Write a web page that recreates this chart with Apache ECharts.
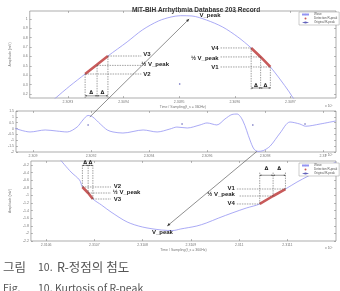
<!DOCTYPE html>
<html>
<head>
<meta charset="utf-8">
<script src="https://cdn.jsdelivr.net/npm/echarts@6/dist/echarts.min.js"></script>
<style>
html,body{margin:0;padding:0;background:#fff;}
#main{width:340px;height:291px;}
</style>
</head>
<body>
<div id="main"></div>
<script>
// ---- panel 1 : zoomed positive R-peak ----
var p1X = [13.5,15.6,20.7,26.2,30.3,34.4,41.3,46.8,52.6,57.1,60.5,64.6,69.8,75.6,81.1,85.9,89.3,92.8,96.2,99.6,101.0,103.0];
var p1Y = [0.10,0.157,0.285,0.413,0.509,0.605,0.755,0.883,0.979,1.021,1.035,1.032,0.989,0.915,0.808,0.691,0.595,0.488,0.36,0.221,0.157,0.10];
var p1DetL = [[26.2,0.413],[30.3,0.509],[34.4,0.605]];
var p1DetR = [[85.9,0.691],[89.3,0.595],[92.8,0.488]];
var p1Orig = [[60.2,0.307]];
var p1Ticks = [20,40,60,80,100];
var p1XLabels = ['2.3093','2.3094','2.3095','2.3096','2.3097'];
var p1YTicks = [0.2,0.3,0.4,0.5,0.6,0.7,0.8,0.9,1];

// ---- panel 2 : ECG segment ----
var p2X = [-33,-5,21,41,59,76,86,95,103,116,128,138,155,190,214,236,248,266,288,300,317,331,343,352,362,374,381,388,397,409,426,443,460,470,495,522];
var p2Y = [0.05,-0.29,-0.12,-0.21,-0.29,0.13,0.73,1.12,0.99,0.39,-0.12,-0.29,-0.38,-0.12,-0.29,-0.04,0.13,0.05,0.31,0.48,0.31,0.82,1.2,1.24,0.65,-0.97,-1.75,-1.95,-1.88,-1.49,-0.38,0.56,0.39,0.2,0.39,0.65];
var p2Orig = [[95,0.31],[257,0.39],[379,0.31],[469,0.39]];
var p2Ticks = [0,100,200,300,400,500];
var p2XLabels = ['2.309','2.3092','2.3094','2.3096','2.3098','2.31'];
var p2YTicks = [-2,-1.5,-1,-0.5,0,0.5,1,1.5];

// ---- panel 3 : zoomed negative R-peak ----
var p3X = [29.6,51.4,69.2,75.1,87,96.8,114.6,134.4,168,199.6,239.1,262.8,278.7,312.3,332,357.7,385.4,415,442.7,470.4,496,519.8,543.5,569.2,600.8];
var p3Y = [-0.068,-0.384,-0.595,-0.779,-0.937,-1.095,-1.253,-1.437,-1.7,-1.832,-1.911,-1.924,-1.884,-1.805,-1.726,-1.595,-1.463,-1.332,-1.226,-1.016,-0.832,-0.65,-0.49,-0.33,-0.121];
var p3DetL = [[75.1,-0.779],[87,-0.937],[96.8,-1.095]];
var p3DetR = [[442.7,-1.226],[470.4,-1.016],[496,-0.832]];
var p3Ticks = [0,100,200,300,400,500];
var p3XLabels = ['2.3106','2.3107','2.3108','2.3109','2.311','2.3111'];
var p3YTicks = [-2.2,-2,-1.8,-1.6,-1.4,-1.2,-1,-0.8,-0.6,-0.4,-0.2];

// annotations (data units): [grid, x1, y1, x2, y2]
var guideLines = [
  [0,26.2,0.413,26.2,0.157],[0,30.5,0.505,30.5,0.157],[0,34.4,0.605,34.4,0.157],
  [0,26.2,0.413,46.4,0.413],[0,30.5,0.505,46.4,0.505],[0,34.4,0.605,46.4,0.605],
  [0,85.9,0.691,85.9,0.25],[0,89.3,0.595,89.3,0.25],[0,92.8,0.488,92.8,0.25],
  [0,74.9,0.691,85.9,0.691],[0,74.9,0.595,89.3,0.595],[0,74.9,0.488,92.8,0.488],
  [2,75.1,-0.2,75.1,-0.779],[2,87,-0.2,87,-0.937],[2,96.8,-0.2,96.8,-1.095],
  [2,75.1,-0.779,134.4,-0.779],[2,87,-0.937,134.4,-0.937],[2,96.8,-1.095,134.4,-1.095],
  [2,442.7,-0.4,442.7,-1.226],[2,470.4,-0.4,470.4,-1.016],[2,496,-0.4,496,-0.832],
  [2,395.3,-0.832,496,-0.832],[2,401,-1.016,470.4,-1.016],[2,395.3,-1.226,442.7,-1.226]
];
// [grid, x, y, text, align]
var guideLabels = [
  [0,47.1,0.62,'V3','left'],[0,46.4,0.515,'½ V_peak','left'],[0,47.1,0.41,'V2','left'],
  [0,74.2,0.685,'V4','right'],[0,74.2,0.585,'½ V_peak','right'],[0,74.2,0.48,'V1','right'],
  [0,71.1,1.043,'V_peak','center'],
  [2,140.3,-0.76,'V2','left'],[2,138,-0.93,'½ V_peak','left'],[2,140.3,-1.11,'V3','left'],
  [2,391.3,-0.81,'V1','right'],[2,391.3,-0.97,'½ V_peak','right'],[2,391.3,-1.2,'V4','right'],
  [2,241,-1.96,'V_peak','center']
];
// [grid, x1, x2, arrowY, textY]
var deltaSpans = [
  [0,26.2,30.5,0.18,0.215],[0,30.5,34.4,0.18,0.215],
  [0,85.9,89.3,0.264,0.29],[0,89.3,92.8,0.264,0.29],
  [2,75.1,87,-0.21,-0.14],[2,87,96.8,-0.21,-0.14],
  [2,442.7,470.4,-0.47,-0.31],[2,470.4,496,-0.47,-0.31]
];
// [fromGrid, x, y, toGrid, x, y]
var peakArrows = [[1,98,0.99,0,63.6,1.0],[1,386,-1.95,2,251,-1.805]];

var waveColor = '#9494f2';
var detColor = '#c85a5a';
var axisColor = '#777';

var chart = echarts.init(document.getElementById('main'));

function nearLabel(ticks, labels, v) {
  for (var i = 0; i < ticks.length; i++) {
    if (Math.abs(ticks[i] - v) < 1e-6) return labels[i];
  }
  return '';
}
function xAxisOf(g, min, max, ticks, labels, name, top) {
  return {
    type: 'value', gridIndex: g, min: min, max: max, position: top ? 'top' : 'bottom',
    axisLine: {show: false, onZero: false}, splitLine: {show: false},
    axisTick: {inside: true, length: 2, customValues: ticks, lineStyle: {color: axisColor, width: 0.5}},
    axisLabel: {show: !top, customValues: ticks, fontSize: 3.5, color: '#777', margin: 2,
      formatter: function (v) { return nearLabel(ticks, labels, v); }},
    name: top ? '' : name, nameLocation: 'middle', nameGap: 7,
    nameTextStyle: {fontSize: 3.5, color: '#777'}
  };
}
function yAxisOf(g, min, max, ticks, name, right) {
  return {
    type: 'value', gridIndex: g, min: min, max: max, position: right ? 'right' : 'left',
    axisLine: {show: false, onZero: false}, splitLine: {show: false},
    axisTick: {inside: true, length: 2, customValues: ticks, lineStyle: {color: axisColor, width: 0.5}},
    axisLabel: {show: !right, customValues: ticks, fontSize: 3.5, color: '#777', margin: 2,
      formatter: function (v) { return String(Math.round(v * 10) / 10); }},
    name: right ? '' : name, nameLocation: 'middle', nameGap: 9,
    nameTextStyle: {fontSize: 3.5, color: '#777'}
  };
}
function zip(xs, ys) {
  var out = [];
  for (var i = 0; i < xs.length; i++) out.push([xs[i], ys[i]]);
  return out;
}
function wave(g, data) {
  return {name: 'Wave', type: 'line', xAxisIndex: g, yAxisIndex: g, data: data,
    symbol: 'none', smooth: 0.3, lineStyle: {color: waveColor, width: 0.8},
    itemStyle: {color: waveColor}, silent: true, z: 2};
}
function det(g, data) {
  return {name: 'Detection R-peak', type: 'line', xAxisIndex: g, yAxisIndex: g, data: data,
    symbol: 'none', lineStyle: {color: detColor, width: 2.6}, itemStyle: {color: detColor},
    silent: true, z: 3};
}
function orig(g, data) {
  return {name: 'Original R-peak', type: 'scatter', xAxisIndex: g, yAxisIndex: g, data: data,
    symbolSize: 1.6, itemStyle: {color: '#3a3aa8'}, silent: true, z: 4};
}
function legendAt(top) {
  return {
    left: 299, top: top, orient: 'vertical', itemWidth: 7, itemHeight: 2, itemGap: 1,
    padding: [1, 2], backgroundColor: '#fff', borderColor: '#999', borderWidth: 0.5,
    textStyle: {fontSize: 3, color: '#555'},
    data: [{name: 'Wave'}, {name: 'Detection R-peak', icon: 'circle'}, {name: 'Original R-peak', icon: 'diamond'}]
  };
}

var option = {
  animation: false,
  backgroundColor: '#fff',
  title: {text: 'MIT-BIH Arrhythmia Database 203 Record', left: 191, top: 2, textAlign: 'center',
    textStyle: {fontSize: 6.5, fontWeight: 'bold', color: '#333', fontFamily: 'Liberation Sans'}},
  legend: [legendAt(12), legendAt(163)],
  grid: [
    {left: 15, top: 11, width: 321, height: 87, show: true, borderColor: axisColor, borderWidth: 0.6},
    {left: 16, top: 111, width: 320, height: 41, show: true, borderColor: axisColor, borderWidth: 0.6},
    {left: 16, top: 161, width: 320, height: 80, show: true, borderColor: axisColor, borderWidth: 0.6}
  ],
  xAxis: [
    xAxisOf(0, 6.3, 116.4, p1Ticks, p1XLabels, 'Time / Sampling(f_s = 360Hz)', false),
    xAxisOf(1, -29.3, 522.4, p2Ticks, p2XLabels, '', false),
    xAxisOf(2, -31.6, 600.8, p3Ticks, p3XLabels, 'Time / Sampling(f_s = 360Hz)', false),
    xAxisOf(0, 6.3, 116.4, p1Ticks, p1XLabels, '', true),
    xAxisOf(1, -29.3, 522.4, p2Ticks, p2XLabels, '', true),
    xAxisOf(2, -31.6, 600.8, p3Ticks, p3XLabels, '', true)
  ],
  yAxis: [
    yAxisOf(0, 0.157, 1.085, p1YTicks, 'Amplitude (mV)', false),
    yAxisOf(1, -2, 1.5, p2YTicks, '', false),
    yAxisOf(2, -2.2, -0.095, p3YTicks, 'Amplitude (mV)', false),
    yAxisOf(0, 0.157, 1.085, p1YTicks, '', true),
    yAxisOf(1, -2, 1.5, p2YTicks, '', true),
    yAxisOf(2, -2.2, -0.095, p3YTicks, '', true)
  ],
  series: [
    wave(0, zip(p1X, p1Y)), det(0, p1DetL), det(0, p1DetR), orig(0, p1Orig),
    wave(1, zip(p2X, p2Y)), orig(1, p2Orig),
    wave(2, zip(p3X, p3Y)), det(2, p3DetL), det(2, p3DetR)
  ]
};
chart.setOption(option);

function px(g, x, y) { return chart.convertToPixel({gridIndex: g}, [x, y]); }
function head(tip, from, size) {
  var dx = tip[0] - from[0], dy = tip[1] - from[1];
  var len = Math.sqrt(dx * dx + dy * dy) || 1;
  var ux = dx / len, uy = dy / len;
  var bx = tip[0] - ux * size, by = tip[1] - uy * size;
  return {type: 'polygon', silent: true, z: 10,
    shape: {points: [tip, [bx - uy * size * 0.45, by + ux * size * 0.45], [bx + uy * size * 0.45, by - ux * size * 0.45]]},
    style: {fill: '#333'}};
}

var elems = [];
guideLines.forEach(function (d) {
  var a = px(d[0], d[1], d[2]), b = px(d[0], d[3], d[4]);
  elems.push({type: 'line', silent: true, z: 9,
    shape: {x1: a[0], y1: a[1], x2: b[0], y2: b[1]},
    style: {stroke: '#444', lineWidth: 0.5, lineDash: [1.5, 1]}});
});
guideLabels.forEach(function (d) {
  var p = px(d[0], d[1], d[2]);
  elems.push({type: 'text', silent: true, z: 11, x: p[0], y: p[1],
    style: {text: d[3], fill: '#222', align: d[4], verticalAlign: 'middle',
      font: 'bold 6px "Liberation Sans", Arial, sans-serif'}});
});
deltaSpans.forEach(function (d) {
  var a = px(d[0], d[1], d[3]), b = px(d[0], d[2], d[3]);
  var m = [(a[0] + b[0]) / 2, a[1]];
  elems.push({type: 'line', silent: true, z: 9,
    shape: {x1: a[0], y1: a[1], x2: b[0], y2: b[1]}, style: {stroke: '#333', lineWidth: 0.5}});
  elems.push(head(a, m, 1.6));
  elems.push(head(b, m, 1.6));
  var t = px(d[0], (d[1] + d[2]) / 2, d[4]);
  elems.push({type: 'text', silent: true, z: 11, x: t[0], y: t[1],
    style: {text: 'Δ', fill: '#222', align: 'center', verticalAlign: 'middle',
      font: 'bold 5px "DejaVu Sans", sans-serif'}});
});
peakArrows.forEach(function (d) {
  var a = px(d[0], d[1], d[2]), b = px(d[3], d[4], d[5]);
  elems.push({type: 'line', silent: true, z: 9,
    shape: {x1: a[0], y1: a[1], x2: b[0], y2: b[1]}, style: {stroke: '#444', lineWidth: 0.6}});
  elems.push(head(b, a, 3));
});
// exponent marks and caption
[[333, 106], [333, 155], [333, 248]].forEach(function (p) {
  elems.push({type: 'text', silent: true, x: p[0], y: p[1],
    style: {text: 'x 10⁵', fill: '#777', align: 'right', verticalAlign: 'middle', font: '3.5px sans-serif'}});
});
var korFont = '12.5px "Noto Sans CJK KR", sans-serif';
var engFont = '10.5px "Noto Sans CJK KR", sans-serif';
[[3, 267, '그림', korFont], [38, 267, '10.', engFont], [57, 267, 'R-정점의 첨도', korFont],
 [3, 288, 'Fig.', engFont], [38, 288, '10.', engFont], [55, 288, 'Kurtosis of R-peak', engFont]].forEach(function (c) {
  elems.push({type: 'text', silent: true, x: c[0], y: c[1],
    style: {text: c[2], fill: '#555', align: 'left', verticalAlign: 'middle', font: c[3]}});
});
chart.setOption({graphic: elems});
</script>
</body>
</html>
